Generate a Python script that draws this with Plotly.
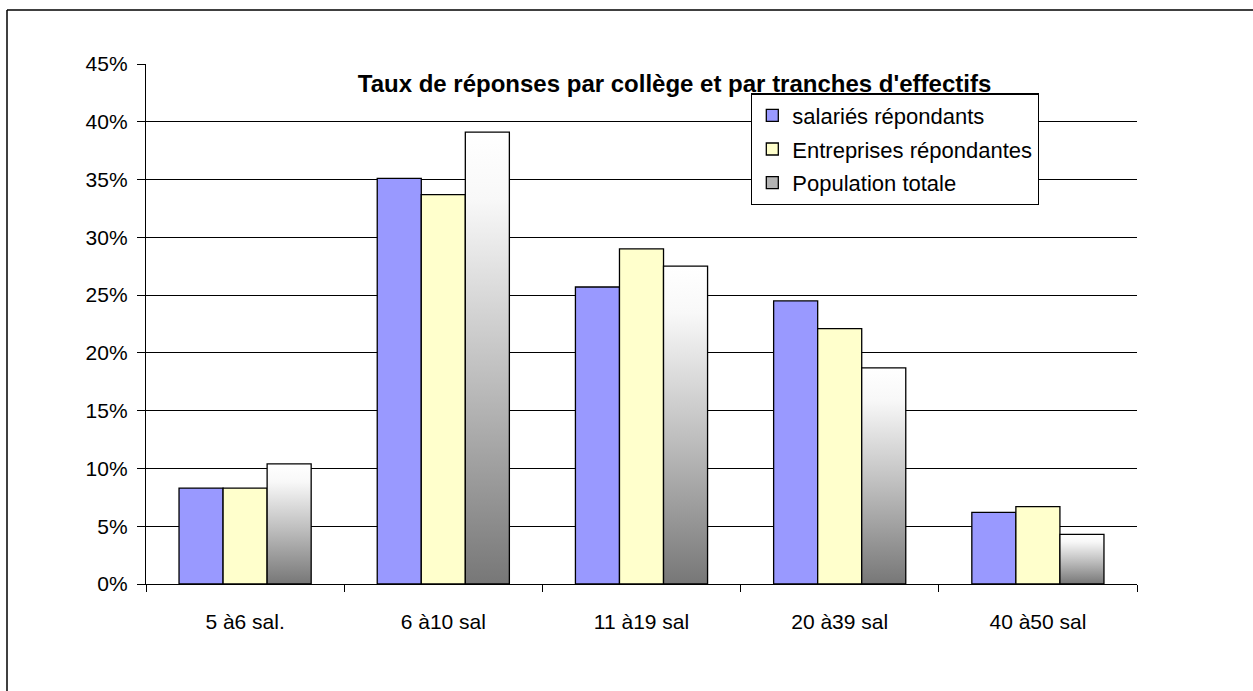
import plotly.graph_objects as go

categories = ["5 à6 sal.", "6 à10 sal", "11 à19 sal", "20 à39 sal", "40 à50 sal"]
salaries = [8.3, 35.1, 25.7, 24.5, 6.2]
entreprises = [8.3, 33.7, 29.0, 22.1, 6.7]
population = [10.4, 39.1, 27.5, 18.7, 4.3]
series_names = ["salariés répondants", "Entreprises répondantes", "Population totale"]
y_ticks = [0, 5, 10, 15, 20, 25, 30, 35, 40, 45]
title_text = "Taux de réponses par collège et par tranches d'effectifs"

FONT = "Liberation Sans, Arial, sans-serif"
BW = 2 / 9  # bar width in category units
xs = list(range(len(categories)))

fig = go.Figure()

fig.add_trace(go.Bar(
    x=xs, y=salaries, name=series_names[0], width=BW, offset=-1.5 * BW,
    marker=dict(color="#9999ff", line=dict(color="black", width=1.3)),
    legendgroup="a", legendrank=1,
))
fig.add_trace(go.Bar(
    x=xs, y=entreprises, name=series_names[1], width=BW, offset=-0.5 * BW,
    marker=dict(color="#ffffcc", line=dict(color="black", width=1.3)),
    legendgroup="b", legendrank=2,
))
# legend-only entry for the gradient series
fig.add_trace(go.Bar(
    x=[None], y=[None], name=series_names[2],
    marker=dict(color="#b4b4b4", line=dict(color="black", width=1.3)),
    legendgroup="c", legendrank=3,
))

grad = [[0, "#777777"], [0.45, "#bdbdbd"], [0.85, "#f8f8f8"], [1, "#ffffff"]]
for i, v in zip(xs, population):
    x0 = i + 0.5 * BW
    x1 = i + 1.5 * BW
    fig.add_trace(go.Scatter(
        x=[x0, x1, x1, x0, x0], y=[0, 0, v, v, 0],
        mode="lines", fill="toself",
        fillgradient=dict(type="vertical", colorscale=grad),
        line=dict(color="black", width=1.3),
        showlegend=False, hoverinfo="skip", legendgroup="c",
    ))

bx = (7 - 146) / 991
by = (584 - 10) / 520
fig.update_layout(
    width=1253, height=691,
    margin=dict(l=146, r=116, t=64, b=107),
    paper_bgcolor="white", plot_bgcolor="white",
    barmode="overlay",
    font=dict(family=FONT, color="black", size=21),
    title=dict(
        text="<b>" + title_text + "</b>",
        font=dict(family=FONT, size=24, color="black"),
        x=0.5333, xref="paper", xanchor="center",
        y=1 - 84 / 691, yref="container", yanchor="middle",
    ),
    legend=dict(
        x=0.6105, y=0.9437, xanchor="left", yanchor="top",
        bgcolor="white", bordercolor="black", borderwidth=1.3,
        font=dict(family=FONT, size=22, color="black"),
        traceorder="grouped", tracegroupgap=2, itemwidth=30,
    ),
    showlegend=True,
    shapes=[
        dict(type="line", xref="paper", yref="paper",
             x0=bx, x1=bx, y0=-1, y1=by, line=dict(color="black", width=1.5)),
        dict(type="line", xref="paper", yref="paper",
             x0=bx, x1=1.5, y0=by, y1=by, line=dict(color="black", width=1.5)),
    ],
)

fig.update_xaxes(
    range=[-0.5, len(categories) - 0.5],
    tickmode="array", tickvals=xs, ticktext=categories,
    ticks="outside", ticklen=19, tickcolor="rgba(0,0,0,0)",
    showline=True, linecolor="black", linewidth=1.3,
    showgrid=False, zeroline=False,
    tickfont=dict(family=FONT, size=21, color="black"),
    minor=dict(tickmode="linear", tick0=-0.5, dtick=1, ticks="outside",
               ticklen=7, tickwidth=1.3, tickcolor="black", showgrid=False),
)
fig.update_yaxes(
    range=[0, 45], tickmode="array", tickvals=y_ticks,
    ticktext=[f"{t}%" for t in y_ticks],
    ticks="outside", ticklen=8, tickwidth=1.3, tickcolor="black",
    ticklabelstandoff=5,
    showline=True, linecolor="black", linewidth=1.3,
    showgrid=True, gridcolor="black", gridwidth=1.3,
    zeroline=False,
    tickfont=dict(family=FONT, size=21, color="black"),
)

fig.write_html("out.html")
